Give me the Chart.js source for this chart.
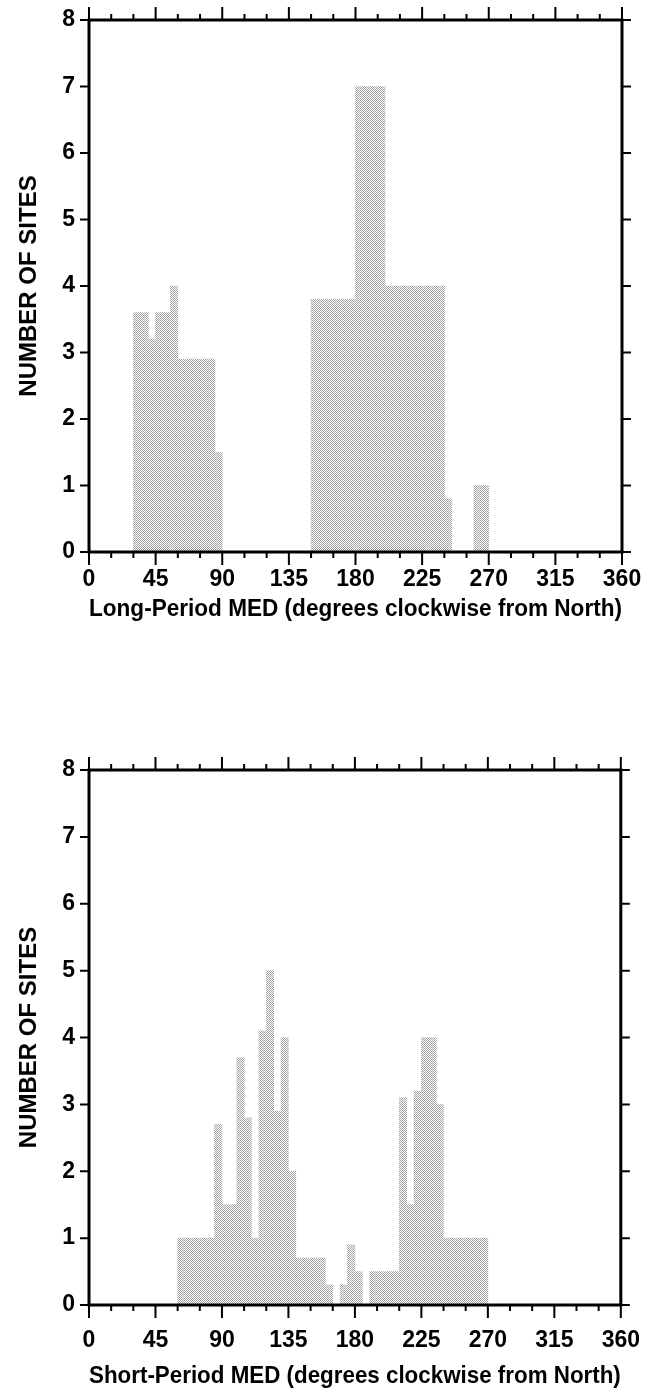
<!DOCTYPE html>
<html>
<head>
<meta charset="utf-8">
<title>MED histograms</title>
<script src="https://cdn.jsdelivr.net/npm/chart.js@4.4.1/dist/chart.umd.min.js"></script>
<style>
  html, body { margin: 0; padding: 0; background: #fff; }
  #page { position: relative; width: 662px; height: 1398px; }
  canvas { position: absolute; left: 0; }
  #longChart { top: 0; }
  #shortChart { top: 700px; }
</style>
</head>
<body>
<div id="page">
  <canvas id="longChart" width="662" height="640"></canvas>
  <canvas id="shortChart" width="662" height="698"></canvas>
</div>
<script>
// start of each 5-degree azimuth bin
const binStarts = [
  0, 5, 10, 15, 20, 25, 30, 35, 40, 45, 50, 55,
  60, 65, 70, 75, 80, 85, 90, 95, 100, 105, 110, 115,
  120, 125, 130, 135, 140, 145, 150, 155, 160, 165, 170, 175,
  180, 185, 190, 195, 200, 205, 210, 215, 220, 225, 230, 235,
  240, 245, 250, 255, 260, 265, 270, 275, 280, 285, 290, 295,
  300, 305, 310, 315, 320, 325, 330, 335, 340, 345, 350, 355
];
const binWidth = 5;

// number of sites per bin
const longPeriodSites = [
  0, 0, 0, 0, 0, 0, 3.6, 3.6, 3.2, 3.6, 3.6, 4,
  2.9, 2.9, 2.9, 2.9, 2.9, 1.5, 0, 0, 0, 0, 0, 0,
  0, 0, 0, 0, 0, 0, 3.8, 3.8, 3.8, 3.8, 3.8, 3.8,
  7, 7, 7, 7, 4, 4, 4, 4, 4, 4, 4, 4,
  0.8, 0, 0, 0, 1, 1, 0, 0, 0, 0, 0, 0,
  0, 0, 0, 0, 0, 0, 0, 0, 0, 0, 0, 0
];
const shortPeriodSites = [
  0, 0, 0, 0, 0, 0, 0, 0, 0, 0, 0, 0,
  1, 1, 1, 1, 1, 2.7, 1.5, 1.5, 3.7, 2.8, 1, 4.1,
  5, 2.9, 4, 2, 0.7, 0.7, 0.7, 0.7, 0.3, 0, 0.3, 0.9,
  0.5, 0, 0.5, 0.5, 0.5, 0.5, 3.1, 1.5, 3.2, 4, 4, 3,
  1, 1, 1, 1, 1, 1, 0, 0, 0, 0, 0, 0,
  0, 0, 0, 0, 0, 0, 0, 0, 0, 0, 0, 0
];

const azimuthLabels = [0, 45, 90, 135, 180, 225, 270, 315, 360];
const siteTicks = [0, 1, 2, 3, 4, 5, 6, 7, 8];
const minorStep = 15;

const labelFont = { family: "'Liberation Sans', Arial, sans-serif", size: 23, weight: "bold" };
const xTitleFont = { family: "'Liberation Sans', Arial, sans-serif", size: 23, weight: "bold" };
const yTitleFont = { family: "'Liberation Sans', Arial, sans-serif", size: 24, weight: "bold" };

// gray dither like the printed halftone
function ditherFill(ctx) {
  const tile = document.createElement("canvas");
  tile.width = 2;
  tile.height = 2;
  const t = tile.getContext("2d");
  t.fillStyle = "#a2a2a2";
  t.fillRect(0, 0, 1, 1);
  t.fillRect(1, 1, 1, 1);
  return ctx.createPattern(tile, "repeat");
}

// heavy frame with outward ticks on all four sides
const frameTicks = {
  id: "frameTicks",
  afterDraw(chart) {
    const { ctx, chartArea: a, scales } = chart;
    ctx.save();
    ctx.strokeStyle = "#000";
    ctx.lineWidth = 2;
    ctx.beginPath();
    for (let deg = 0; deg <= 360; deg += minorStep) {
      const px = scales.x.getPixelForValue(deg);
      const len = azimuthLabels.includes(deg) ? 13 : 6;
      ctx.moveTo(px, a.bottom);
      ctx.lineTo(px, a.bottom + len);
      ctx.moveTo(px, a.top);
      ctx.lineTo(px, a.top - len);
    }
    siteTicks.forEach((v) => {
      const py = scales.y.getPixelForValue(v);
      ctx.moveTo(a.left, py);
      ctx.lineTo(a.left - 9, py);
      ctx.moveTo(a.right, py);
      ctx.lineTo(a.right + 9, py);
    });
    ctx.stroke();
    ctx.lineWidth = 3;
    ctx.strokeRect(a.left, a.top, a.right - a.left, a.bottom - a.top);
    ctx.restore();
  }
};

function makeHistogram(id, values, xTitle, layout) {
  const canvas = document.getElementById(id);
  const ctx = canvas.getContext("2d");
  const points = binStarts.map((s, i) => ({ x: s + binWidth / 2, y: values[i] }));

  return new Chart(ctx, {
    type: "bar",
    data: {
      datasets: [{
        data: points,
        backgroundColor: ditherFill(ctx),
        borderWidth: 0,
        barPercentage: 1,
        categoryPercentage: 1
      }]
    },
    options: {
      responsive: false,
      animation: false,
      devicePixelRatio: 1,
      layout: { padding: { top: layout.top, right: 40, bottom: 0, left: 0 } },
      plugins: { legend: { display: false }, tooltip: { enabled: false } },
      scales: {
        x: {
          type: "linear",
          min: 0,
          max: 360,
          offset: false,
          afterFit: (s) => { s.height = layout.xHeight; },
          grid: { display: false, drawTicks: false },
          border: { display: false },
          ticks: {
            stepSize: 45,
            autoSkip: false,
            maxRotation: 0,
            padding: layout.labelPad,
            color: "#000",
            font: labelFont
          },
          title: {
            display: true,
            text: xTitle,
            color: "#000",
            font: xTitleFont,
            padding: { top: 0, bottom: layout.titlePad }
          }
        },
        y: {
          min: 0,
          max: 8,
          afterFit: (s) => {
            s.width = 89;
            s.paddingTop = 0;
            s.paddingBottom = 0;
          },
          grid: { display: false, drawTicks: false },
          border: { display: false },
          ticks: { stepSize: 1, padding: 14, color: "#000", font: labelFont },
          title: {
            display: true,
            text: "NUMBER OF SITES",
            color: "#000",
            font: yTitleFont,
            padding: { top: 15, bottom: 0 }
          }
        }
      }
    },
    plugins: [frameTicks]
  });
}

makeHistogram("longChart", longPeriodSites,
  "Long-Period MED (degrees clockwise from North)",
  { top: 20, xHeight: 88, labelPad: 14, titlePad: 17 });

makeHistogram("shortChart", shortPeriodSites,
  "Short-Period MED (degrees clockwise from North)",
  { top: 70, xHeight: 93, labelPad: 22, titlePad: 8 });
</script>
</body>
</html>
